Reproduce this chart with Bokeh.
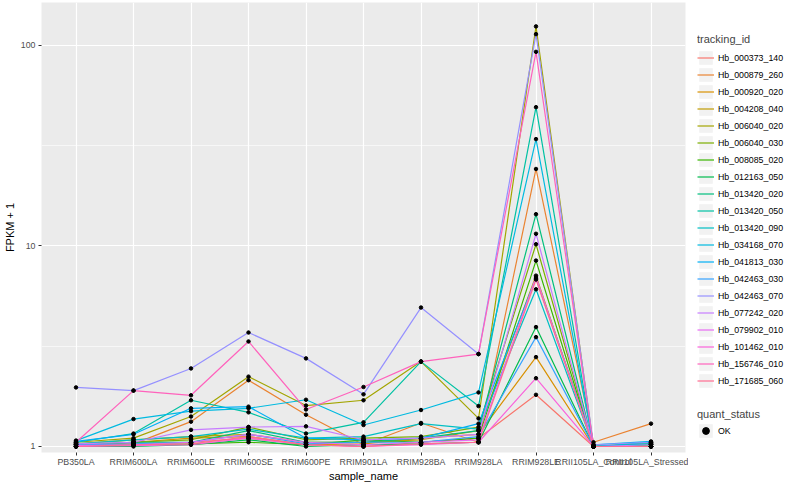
from bokeh.plotting import figure
from bokeh.models import (FactorRange, Range1d, FixedTicker, PrintfTickFormatter,
                          Legend, LegendItem)
from bokeh.layouts import row, column
from bokeh.embed import file_html
from bokeh.resources import INLINE
import numpy as np

samples = ["PB350LA", "RRIM600LA", "RRIM600LE", "RRIM600SE", "RRIM600PE", "RRIM901LA",
           "RRIM928BA", "RRIM928LA", "RRIM928LE", "RRII105LA_Control", "RRII105LA_Stressed"]

tracking_ids = ["Hb_000373_140", "Hb_000879_260", "Hb_000920_020", "Hb_004208_040",
                "Hb_006040_020", "Hb_006040_030", "Hb_008085_020", "Hb_012163_050",
                "Hb_013420_020", "Hb_013420_050", "Hb_013420_090", "Hb_034168_070",
                "Hb_041813_030", "Hb_042463_030", "Hb_042463_070", "Hb_077242_020",
                "Hb_079902_010", "Hb_101462_010", "Hb_156746_010", "Hb_171685_060"]

colors = ["#F8766D", "#EA8331", "#D89000", "#C09B00", "#A3A500", "#7CAE00", "#39B600",
          "#00BB4E", "#00BF7D", "#00C1A3", "#00BFC4", "#00BAE0", "#00B0F6", "#35A2FF",
          "#9590FF", "#C77CFF", "#E76BF3", "#FA62DB", "#FF62BC", "#FF6C91"]

# FPKM + 1 per sample (same order as samples)
hb_000373_140 = [1.02, 1.03, 1.05, 1.10, 1.02, 1.00, 1.05, 1.10, 1.81, 1.00, 1.00]
hb_000879_260 = [1.00, 1.03, 1.33, 2.14, 1.44, 1.02, 1.31, 1.05, 24.2, 1.05, 1.30]
hb_000920_020 = [1.00, 1.05, 1.10, 1.12, 1.02, 1.03, 1.10, 1.15, 2.79, 1.00, 1.02]
hb_004208_040 = [1.03, 1.08, 1.12, 1.15, 1.05, 1.05, 1.08, 1.20, 7.11, 1.00, 1.03]
hb_006040_020 = [1.05, 1.10, 1.41, 2.23, 1.60, 1.70, 2.65, 1.38, 124.4, 1.00, 1.00]
hb_006040_030 = [1.02, 1.05, 1.08, 1.25, 1.08, 1.10, 1.12, 1.25, 10.2, 1.00, 1.05]
hb_008085_020 = [1.00, 1.02, 1.03, 1.05, 1.02, 1.08, 1.05, 1.10, 8.45, 1.00, 1.02]
hb_012163_050 = [1.00, 1.00, 1.02, 1.08, 1.00, 1.02, 1.03, 1.05, 3.94, 1.00, 1.00]
hb_013420_020 = [1.02, 1.05, 1.05, 1.20, 1.05, 1.05, 1.10, 1.20, 14.4, 1.00, 1.02]
hb_013420_050 = [1.05, 1.16, 1.70, 1.48, 1.16, 1.32, 2.65, 1.59, 49.2, 1.00, 1.03]
hb_013420_090 = [1.03, 1.08, 1.12, 1.22, 1.10, 1.12, 1.30, 1.22, 6.08, 1.00, 1.03]
hb_034168_070 = [1.07, 1.37, 1.50, 1.55, 1.71, 1.28, 1.52, 1.86, 34.1, 1.00, 1.05]
hb_041813_030 = [1.06, 1.15, 1.55, 1.58, 1.10, 1.08, 1.10, 1.30, 6.90, 1.02, 1.06]
hb_042463_030 = [1.02, 1.03, 1.05, 1.15, 1.03, 1.05, 1.05, 1.12, 3.51, 1.00, 1.00]
hb_042463_070 = [1.97, 1.90, 2.45, 3.70, 2.75, 1.82, 4.93, 2.89, 113.8, 1.02, 1.05]
hb_077242_020 = [1.03, 1.05, 1.21, 1.25, 1.26, 1.08, 1.10, 1.15, 11.5, 1.00, 1.02]
hb_079902_010 = [1.01, 1.02, 1.05, 1.15, 1.05, 1.02, 1.05, 1.08, 7.00, 1.00, 1.00]
hb_101462_010 = [1.00, 1.01, 1.02, 1.10, 1.02, 1.00, 1.02, 1.05, 2.19, 1.00, 1.00]
hb_156746_010 = [1.05, 1.90, 1.80, 3.34, 1.53, 1.98, 2.65, 2.89, 92.9, 1.00, 1.00]
hb_171685_060 = [1.00, 1.02, 1.03, 1.12, 1.02, 1.00, 1.03, 1.05, 6.80, 1.00, 1.00]

series = [hb_000373_140, hb_000879_260, hb_000920_020, hb_004208_040, hb_006040_020,
          hb_006040_030, hb_008085_020, hb_012163_050, hb_013420_020, hb_013420_050,
          hb_013420_090, hb_034168_070, hb_041813_030, hb_042463_030, hb_042463_070,
          hb_077242_020, hb_079902_010, hb_101462_010, hb_156746_010, hb_171685_060]

quant_status = ["OK"]
y_ticks = [1, 10, 100]
y_minor = [10 ** 0.5, 10 ** 1.5]

FONT = "Liberation Sans"

p = figure(width=688, height=484,
           x_range=FactorRange(factors=samples, range_padding=0.1, range_padding_units="absolute"),
           y_axis_type="log", y_range=Range1d(10 ** -0.03, 10 ** 2.214),
           output_backend="svg", toolbar_location=None,
           min_border_top=2, min_border_right=3, min_border_left=40, min_border_bottom=0,
           background_fill_color="#EBEBEB", border_fill_color="white",
           outline_line_color=None)

for vals, c in zip(series, colors):
    p.line(x=samples, y=vals, line_color=c, line_width=1.2)

px = [s for vals in series for s in samples]
py = [v for vals in series for v in vals]
p.scatter(x=px, y=py, size=3.5, marker="circle", fill_color="black", line_color="black")

ticker = FixedTicker(ticks=y_ticks, minor_ticks=y_minor)
p.yaxis.ticker = ticker
p.ygrid.ticker = ticker
p.yaxis.formatter = PrintfTickFormatter(format="%d")

p.xgrid.grid_line_color = "white"
p.xgrid.grid_line_width = 1.2
p.ygrid.grid_line_color = "white"
p.ygrid.grid_line_width = 1.2
p.ygrid.minor_grid_line_color = "white"
p.ygrid.minor_grid_line_width = 0.6

for ax in (p.xaxis[0], p.yaxis[0]):
    ax.axis_line_color = None
    ax.major_tick_line_color = "#333333"
    ax.major_tick_in = 0
    ax.major_tick_out = 3
    ax.minor_tick_line_color = None
    ax.major_label_text_font = FONT
    ax.major_label_text_font_size = "8.8px"
    ax.major_label_text_color = "#4D4D4D"
    ax.major_label_standoff = 2
    ax.axis_label_text_font = FONT
    ax.axis_label_text_font_size = "11px"
    ax.axis_label_text_font_style = "normal"
    ax.axis_label_text_color = "black"
    ax.axis_label_standoff = 2

p.xaxis.major_label_standoff = 1
p.xaxis.axis_label_standoff = 0
p.xaxis.axis_label = "sample_name"
p.yaxis.axis_label = "FPKM + 1"


def legend_fig(height, top):
    f = figure(width=96, height=height, output_backend="svg", toolbar_location=None,
               x_axis_location=None, y_axis_location=None,
               x_range=Range1d(0, 1), y_range=Range1d(0, 1),
               min_border_left=9, min_border_top=top, min_border_right=0, min_border_bottom=0,
               outline_line_color=None, background_fill_color="white",
               border_fill_color="white")
    f.grid.visible = False
    return f


def style_legend(lg):
    lg.location = "top_left"
    lg.margin = 0
    lg.padding = 0
    lg.spacing = 0
    lg.glyph_width = 17
    lg.glyph_height = 17
    lg.label_height = 17
    lg.label_standoff = 4
    lg.label_text_font = FONT
    lg.label_text_font_size = "8.8px"
    lg.label_text_color = "black"
    lg.title_text_font = FONT
    lg.title_text_font_size = "11px"
    lg.title_text_font_style = "normal"
    lg.title_standoff = 4
    lg.border_line_color = None
    lg.background_fill_alpha = 0


leg1 = legend_fig(398, 33)
bg1 = leg1.rect(x=[np.nan], y=[np.nan], width=1, height=1, fill_color="#F2F2F2", line_color=None)
items = []
for tid, c in zip(tracking_ids, colors):
    r = leg1.line(x=[np.nan, np.nan], y=[np.nan, np.nan], line_color=c, line_width=1.2)
    items.append(LegendItem(label=tid, renderers=[bg1, r]))
lg1 = Legend(items=items, title="tracking_id")
style_legend(lg1)
leg1.add_layout(lg1, "center")

leg2 = legend_fig(86, 10)
bg2 = leg2.rect(x=[np.nan], y=[np.nan], width=1, height=1, fill_color="#F2F2F2", line_color=None)
pt = leg2.scatter(x=[np.nan], y=[np.nan], size=3.5, marker="circle", fill_color="black", line_color="black")
lg2 = Legend(items=[LegendItem(label=q, renderers=[bg2, pt]) for q in quant_status], title="quant_status")
style_legend(lg2)
lg2.title_standoff = 2
leg2.add_layout(lg2, "center")

layout = row(p, column(leg1, leg2))
open("out.html", "w").write(file_html(layout, INLINE))
